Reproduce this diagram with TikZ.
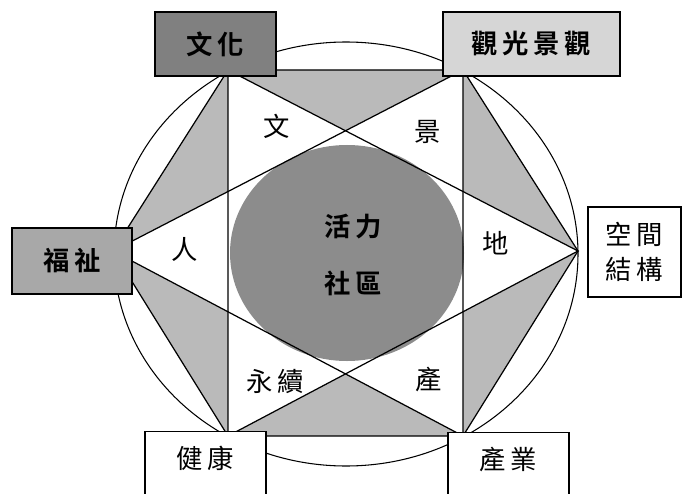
\documentclass[tikz,border=0pt]{standalone}
\usepackage{fontspec}
\newfontfamily\cjk{Noto Sans CJK TC}[BoldFont={Noto Sans CJK TC Bold},LetterSpace=18]
\usepackage{tikz}

\tikzset{
  shade/.style={fill=black!27},
  core/.style={fill=black!45},
  edge/.style={line width=0.7pt},
  lab/.style={font=\cjk\fontsize{15}{20}\selectfont},
  boldlab/.style={font=\cjk\bfseries\fontsize{15}{19}\selectfont},
  box/.style={draw,line width=0.8pt,inner sep=0pt,minimum width=2.42cm,minimum height=1.28cm},
}

\begin{document}
\begin{tikzpicture}[x=0.02cm,y=-0.02cm]
  \useasboundingbox (0,0) rectangle (682,493);
  % corners of the hexagon
  \coordinate (tl) at (228,70);
  \coordinate (tr) at (463,70);
  \coordinate (r) at (578,251);
  \coordinate (br) at (463,436);
  \coordinate (bl) at (228,436);
  \coordinate (l) at (113,251);
  \draw[line width=0.6pt] (346,254) ellipse [x radius=232, y radius=212];
  \fill[shade] (tl) -- (tr) -- (r) -- (br) -- (bl) -- (l) -- cycle;
  \fill[white] (tl) -- (r) -- (bl) -- cycle;
  \fill[white] (tr) -- (l) -- (br) -- cycle;
  \fill[core] (347,253) ellipse [x radius=117, y radius=108];
  \draw[edge] (tl) -- (tr) -- (r) -- (br) -- (bl) -- (l) -- cycle;
  \draw[edge] (tl) -- (r) -- (bl) -- cycle;
  \draw[edge] (tr) -- (l) -- (br) -- cycle;
  % the six points of the star
  \foreach \n/\x/\y/\t in {wen/277/126/文, jing/428/132/景, ren/185/249/人, di/496/243/地, yongxu/275/382/永續, chan/429/379/產}
    \node[lab] (\n) at (\x,\y) {\t};
  \node[boldlab] (huoli) at (353,227) {活力};
  \node[boldlab] (shequ) at (353,283) {社區};
  % boxes on the corners
  \node[box,boldlab,fill=black!50] (wenhua) at (215.5,44) {文化};
  \node[box,boldlab,fill=black!16,minimum width=3.54cm] (guanguang) at (531.5,44) {觀光景觀};
  \node[box,boldlab,fill=black!34,minimum width=2.4cm,minimum height=1.32cm] (fuzhi) at (72,261) {福祉};
  \node[box,lab,fill=white,minimum width=1.86cm,minimum height=1.8cm,align=center] (kongjian) at (634.5,252) {空間\\結構};
  \node[box,lab,fill=white,anchor=north,minimum height=1.3cm,text depth=0.26cm] (jiankang) at (205.5,431) {健康};
  \node[box,lab,fill=white,anchor=north,minimum height=1.3cm,text depth=0.26cm] (chanye) at (508.5,432) {產業};
\end{tikzpicture}
\end{document}
